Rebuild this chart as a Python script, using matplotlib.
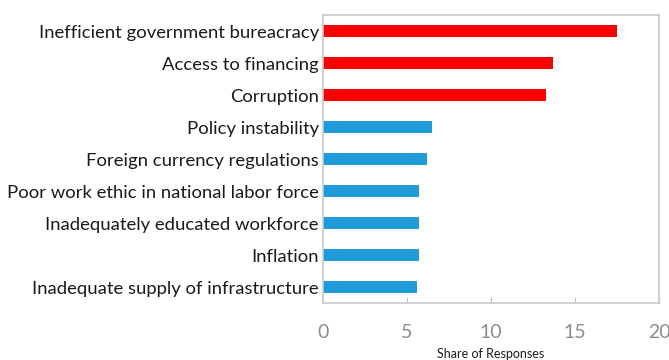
import matplotlib
matplotlib.use("Agg")
import matplotlib.pyplot as plt

plt.rcParams["font.family"] = ["Lato", "DejaVu Sans"]

categories = [
    "Inadequate supply of infrastructure",
    "Inflation",
    "Inadequately educated workforce",
    "Poor work ethic in national labor force",
    "Foreign currency regulations",
    "Policy instability",
    "Corruption",
    "Access to financing",
    "Inefficient government bureacracy",
]
shares = [5.6, 5.7, 5.7, 5.7, 6.2, 6.5, 13.3, 13.7, 17.5]
top_three = 3

colors = ["#1f9bd7"] * (len(categories) - top_three) + ["#ff0000"] * top_three

fig = plt.figure(figsize=(6.69, 3.60), dpi=100)
ax = fig.add_axes([0.4828, 0.1583, 0.5022, 0.8])

ax.barh(range(len(categories)), shares, height=0.36, color=colors)

ax.set_xlim(0, 20)
ax.set_ylim(-0.5, len(categories) - 0.5)
ax.set_xticks([0, 5, 10, 15, 20])
ax.set_yticks(range(len(categories)))
ax.set_yticklabels(categories, fontsize=13.3, color="#1a1a1a")

ax.tick_params(axis="y", length=0, pad=3)
ax.tick_params(axis="x", direction="in", length=4, color="#bfbfbf",
               labelsize=14, labelcolor="#8c8c8c", pad=15)

for s in ax.spines.values():
    s.set_color("#c8c8c8")
    s.set_linewidth(1.2)

ax.set_xlabel("Share of Responses", fontsize=9, color="#1a1a1a", labelpad=5)

fig.savefig("out.png", dpi=100)
